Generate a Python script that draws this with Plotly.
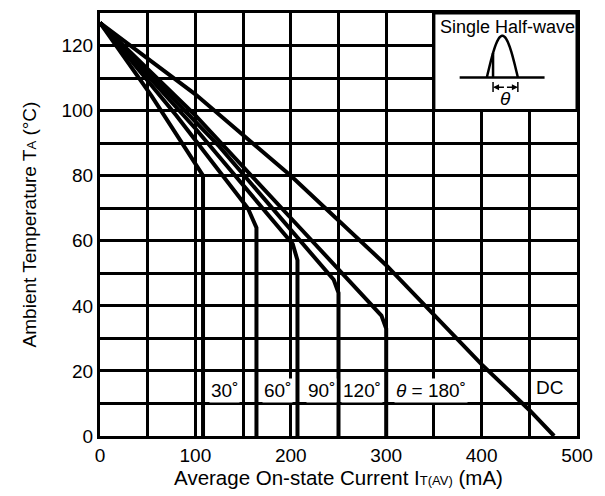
import plotly.graph_objects as go
import numpy as np

# ---- data ----
I_30 = [0, 54, 108, 108]
T_30 = [127, 104.5, 80, 0]
I_60 = [0, 80, 155, 164, 164]
T_60 = [127, 98.5, 70, 64, 0]
I_90 = [0, 100, 202, 207, 207]
T_90 = [127, 94.5, 59, 54, 0]
I_120 = [0, 125, 245, 250, 250]
T_120 = [127, 89, 48, 44, 0]
I_180 = [0, 100, 200, 295, 300, 300]
T_180 = [127, 98.5, 67, 37, 33, 0]
I_DC = [0, 100, 200, 300, 400, 450, 476]
T_DC = [127, 105, 80, 52.5, 22, 8, 0]

series = [(I_30, T_30), (I_60, T_60), (I_90, T_90), (I_120, T_120), (I_180, T_180), (I_DC, T_DC)]

label_text = ["30˚", "60˚", "90˚", "120˚", "<i>θ</i> = 180˚", "DC"]
label_x = [131, 186, 232, 275, 347, 471]
label_y = [14, 14, 14, 14, 14, 15]

x_ticks = list(range(0, 501, 50))
x_ticktext = [str(v) if v % 100 == 0 else "" for v in x_ticks]
y_ticks = list(range(0, 131, 10))
y_ticktext = [str(v) if v % 20 == 0 and v <= 120 else "" for v in y_ticks]

FONT = "Liberation Sans, Arial, Helvetica, sans-serif"

fig = go.Figure()
for xs, ys in series:
    fig.add_trace(go.Scatter(x=xs, y=ys, mode="lines",
                             line=dict(color="black", width=4),
                             showlegend=False, hoverinfo="skip"))

# labels with white background
for t, x, y in zip(label_text, label_x, label_y):
    fig.add_annotation(x=x, y=y, text=t, showarrow=False,
                       font=dict(family=FONT, size=19, color="black"),
                       bgcolor="white", borderpad=1)

# ---- inset (Single Half-wave icon) ----
box_x0, box_x1, box_y0, box_y1 = 350, 500, 100, 130
fig.add_shape(type="rect", x0=box_x0, x1=box_x1, y0=box_y0, y1=box_y1,
              fillcolor="white", line=dict(color="black", width=3), layer="above")
fig.add_annotation(x=354, y=125.8, text="Single Half-wave", showarrow=False,
                   xanchor="left", font=dict(family=FONT, size=18, color="black"))

base_y, base_x0, base_x1 = 110.2, 377, 466
arch_x0, arch_x1, arch_h = 405.5, 438, 12.8
fire_x = 412
fig.add_shape(type="line", x0=base_x0, x1=base_x1, y0=base_y, y1=base_y,
              line=dict(color="black", width=2.5), layer="above")
tt = np.linspace(0, np.pi, 40)
ax_ = arch_x0 + (arch_x1 - arch_x0) * tt / np.pi
ay_ = base_y + arch_h * np.sin(tt)
path = "M " + " L ".join(f"{a:.2f},{b:.2f}" for a, b in zip(ax_, ay_))
fig.add_shape(type="path", path=path, line=dict(color="black", width=2.5), layer="above")
fire_top = base_y + arch_h * np.sin(np.pi * (fire_x - arch_x0) / (arch_x1 - arch_x0))
fig.add_shape(type="line", x0=fire_x, x1=fire_x, y0=base_y, y1=fire_top,
              line=dict(color="black", width=2.5), layer="above")
arr_y = 107.2
for xe in (fire_x, arch_x1):
    fig.add_shape(type="line", x0=xe, x1=xe, y0=arr_y - 1.5, y1=arr_y + 1.6,
                  line=dict(color="black", width=1.5), layer="above")
mid = (fire_x + arch_x1) / 2
for xe in (fire_x, arch_x1):
    fig.add_annotation(x=xe, y=arr_y, ax=mid, ay=arr_y, axref="x", ayref="y",
                       xref="x", yref="y", text="", showarrow=True,
                       arrowhead=2, arrowsize=0.8, arrowwidth=1.5, arrowcolor="black")
fig.add_annotation(x=mid, y=103.6, text="<i>θ</i>", showarrow=False,
                   font=dict(family=FONT, size=19, color="black"))

axis_common = dict(showline=True, mirror=True, linecolor="black", linewidth=3,
                   showgrid=True, gridcolor="black", gridwidth=3, zeroline=False,
                   ticks="", tickfont=dict(family=FONT, size=19, color="black"),
                   tickmode="array")

fig.update_xaxes(range=[0, 500], tickvals=x_ticks, ticktext=x_ticktext,
                 title=dict(text="Average On-state Current I<span style='font-size:13px'>T(AV)</span> (mA)",
                            font=dict(family=FONT, size=20.5, color="black"), standoff=6),
                 **axis_common)
fig.update_yaxes(range=[0, 130], tickvals=y_ticks, ticktext=y_ticktext,
                 title=dict(text="Ambient Temperature T<span style='font-size:13px'>A</span> (°C)",
                            font=dict(family=FONT, size=19, color="black"), standoff=20),
                 **axis_common)

fig.update_layout(width=605, height=496, margin=dict(l=100, r=28, t=10, b=60),
                  paper_bgcolor="white", plot_bgcolor="white",
                  font=dict(family=FONT, color="black"))

fig.write_html("out.html")
